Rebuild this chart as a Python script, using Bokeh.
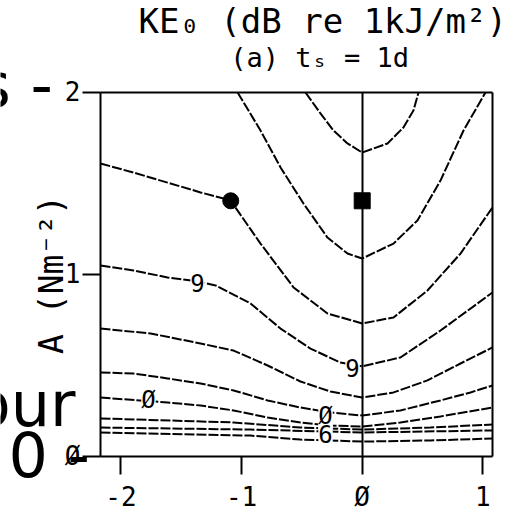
from bokeh.plotting import figure
from bokeh.models import Label, FixedTicker, LinearAxis, Range1d, Grid
from bokeh.embed import file_html
from bokeh.resources import INLINE

# ---- data ----
ca_x = [-0.47, -0.346, -0.238, -0.122, 0.0, 0.21, 0.342, 0.425, 0.467]
ca_y = [2.0, 1.885, 1.791, 1.72, 1.67, 1.72, 1.808, 1.901, 2.0]
cb_x = [-1.033, -0.843, -0.677, -0.487, -0.288, -0.122, 0.0, 0.26, 0.458, 0.649, 0.84, 1.022]
cb_y = [2.0, 1.791, 1.588, 1.39, 1.203, 1.115, 1.088, 1.17, 1.297, 1.516, 1.791, 2.0]
cc_x = [-2.17, -1.896, -1.614, -1.34, -1.092, -0.843, -0.569, -0.288, 0.0, 0.26, 0.541, 0.815, 1.08]
cc_y = [1.61, 1.56, 1.505, 1.451, 1.407, 1.17, 0.929, 0.786, 0.731, 0.764, 0.912, 1.115, 1.368]
cd_x = [-2.17, -1.896, -1.614, -1.365, -1.216, -0.926, -0.677, -0.429, -0.18, 0.0, 0.317, 0.649, 1.08]
cd_y = [1.049, 1.022, 0.984, 0.962, 0.940, 0.841, 0.703, 0.593, 0.516, 0.495, 0.544, 0.692, 0.901]
ce_x = [-2.17, -1.755, -1.34, -1.066, -0.784, -0.512, -0.263, 0.0, 0.26, 0.541, 0.815, 1.08]
ce_y = [0.703, 0.676, 0.621, 0.582, 0.5, 0.412, 0.357, 0.324, 0.352, 0.418, 0.511, 0.599]
cf_x = [-2.17, -1.896, -1.614, -1.34, -1.066, -0.784, -0.512, -0.263, 0.0, 0.317, 0.649, 0.898, 1.08]
cf_y = [0.462, 0.456, 0.429, 0.401, 0.363, 0.308, 0.269, 0.242, 0.225, 0.253, 0.308, 0.352, 0.39]
cg_x = [-2.17, -1.614, -1.34, -1.066, -0.784, -0.512, -0.263, 0.0, 0.317, 0.649, 1.08]
cg_y = [0.324, 0.297, 0.280, 0.253, 0.214, 0.187, 0.170, 0.165, 0.187, 0.220, 0.269]
ch_x = [-2.17, -1.066, -0.512, 0.0, 0.566, 1.08]
ch_y = [0.209, 0.187, 0.159, 0.148, 0.159, 0.176]
ci_x = [-2.17, -0.926, 0.0, 1.08]
ci_y = [0.159, 0.148, 0.132, 0.143]
cj_x = [-2.17, -0.926, -0.512, 0.0, 0.566, 1.08]
cj_y = [0.132, 0.115, 0.093, 0.082, 0.088, 0.099]

contour_label_text = ["9", "9", "Ø", "Ø", "6"]
contour_label_x = [-1.365, -0.08, -1.772, -0.304, -0.304]
contour_label_y = [0.956, 0.484, 0.313, 0.225, 0.126]

circle_x = [-1.09]
circle_y = [1.405]
square_x = [0.0]
square_y = [1.405]

x_bounds = (-2.17, 1.08)
y_bounds = (0.0, 2.0)
x_ticks = [-2, -1, 0, 1]
x_tick_labels = ["-2", "-1", "Ø", "1"]
y_ticks = [0, 1, 2]
y_tick_labels = ["Ø", "1", "2"]

title1 = "KE₀ (dB re 1kJ/m²)"
title2 = "(a) tₛ = 1d"
ylabel = "A (Nm⁻²)"

# large text fragments cut by the left edge
frag_text = ["s -", "our", "0 -"]
frag_x = [-3.182, -2.377, -2.933]
frag_y = [2.036, 0.2835, 0.0033]
frag_align = ["left", "right", "left"]

MONO = "DejaVu Sans Mono"

# the canvas is the frame; the plot box is drawn with fixed-location axes
p = figure(frame_width=518, frame_height=516, min_border=0,
           x_range=Range1d(-2.999, 1.296), y_range=Range1d(-0.3297, 2.5055),
           x_axis_location=None, y_axis_location=None, title=None,
           output_backend="svg", toolbar_location=None)
p.background_fill_color = "white"
p.border_fill_color = "white"
p.outline_line_color = None
for g in p.select(type=Grid):
    g.visible = False


def make_axis(loc, bounds, ticks, labels, tick_out=18):
    ax = LinearAxis(fixed_location=loc, bounds=bounds, ticker=FixedTicker(ticks=ticks),
                    axis_line_width=2, axis_line_color="black",
                    major_tick_line_width=2, major_tick_out=tick_out, major_tick_in=0,
                    minor_tick_line_color=None, minor_tick_out=0, minor_tick_in=0,
                    major_label_text_font=MONO, major_label_text_font_size="26px",
                    major_label_text_color="black")
    if labels is not None:
        ax.major_label_overrides = {t: l for t, l in zip(ticks, labels)}
    return ax


left = make_axis(x_bounds[0], y_bounds, y_ticks, y_tick_labels)
left.major_label_standoff = 2
left.axis_label = ylabel
left.axis_label_text_font = MONO
left.axis_label_text_font_size = "33px"
left.axis_label_text_font_style = "normal"
left.axis_label_text_color = "black"
left.axis_label_standoff = -9
p.add_layout(left, "left")

bottom = make_axis(y_bounds[0], x_bounds, x_ticks, x_tick_labels)
bottom.major_label_standoff = 8
p.add_layout(bottom, "below")

right = make_axis(x_bounds[1], y_bounds, [], None, tick_out=0)
p.add_layout(right, "right")
top = make_axis(y_bounds[1], x_bounds, [], None, tick_out=0)
p.add_layout(top, "above")
zero_line = make_axis(0.0, y_bounds, [], None, tick_out=0)
p.add_layout(zero_line, "right")

dash = "10 2"
for xs, ys in ((ca_x, ca_y), (cb_x, cb_y), (cc_x, cc_y), (cd_x, cd_y), (ce_x, ce_y),
               (cf_x, cf_y), (cg_x, cg_y), (ch_x, ch_y), (ci_x, ci_y), (cj_x, cj_y)):
    p.line(xs, ys, line_color="black", line_width=2, line_dash=dash)

p.scatter(circle_x, circle_y, marker="circle", size=16, color="black")
p.scatter(square_x, square_y, marker="square", size=16, color="black")

for t, x, y in zip(contour_label_text, contour_label_x, contour_label_y):
    p.add_layout(Label(x=x, y=y, text=t, text_font=MONO, text_font_size="24px",
                       text_align="center", text_baseline="middle", text_color="black",
                       background_fill_color="white"))

# titles (left edge and middle positions in data units)
p.add_layout(Label(x=-1.855, y=2.392, text=title1, text_font=MONO, text_font_size="34px",
                   text_align="left", text_baseline="middle", text_color="black"))
p.add_layout(Label(x=-1.095, y=2.192, text=title2, text_font=MONO, text_font_size="27px",
                   text_align="left", text_baseline="middle", text_color="black"))

for t, x, y, a in zip(frag_text, frag_x, frag_y, frag_align):
    p.add_layout(Label(x=x, y=y, text=t, text_font="DejaVu Sans", text_font_size="62px",
                       text_align=a, text_baseline="middle", text_color="black"))

open("out.html", "w").write(file_html(p, INLINE))
